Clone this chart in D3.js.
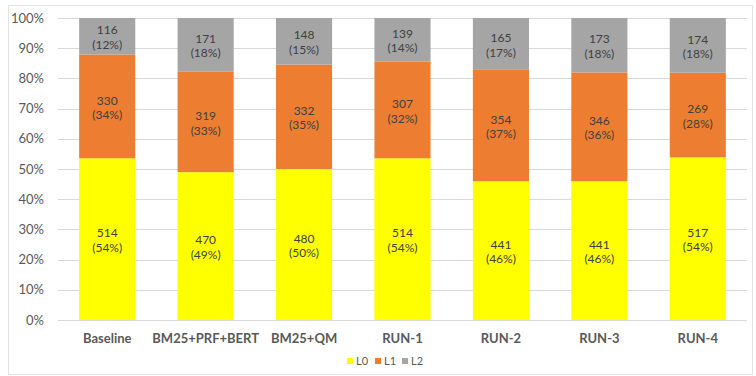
<!DOCTYPE html>
<html>
<head>
<meta charset="utf-8">
<script src="https://cdn.jsdelivr.net/npm/d3@7"></script>
<style>
  html, body { margin: 0; padding: 0; background: #fff; }
  svg { display: block; font-family: Lato, "Open Sans", sans-serif; }
</style>
</head>
<body>
<svg id="chart" width="756" height="376"></svg>
<script>
// Relevance-level counts per run (stacked to 100%)
const categories = ["Baseline", "BM25+PRF+BERT", "BM25+QM", "RUN-1", "RUN-2", "RUN-3", "RUN-4"];
const seriesNames = ["L0", "L1", "L2"];
const L0 = [514, 470, 480, 514, 441, 441, 517];
const L1 = [330, 319, 332, 307, 354, 346, 269];
const L2 = [116, 171, 148, 139, 165, 173, 174];
const yTicks = [0, 0.1, 0.2, 0.3, 0.4, 0.5, 0.6, 0.7, 0.8, 0.9, 1.0];
const colors = { L0: "#FFFF00", L1: "#ED7D31", L2: "#A5A5A5" };

const rows = categories.map((c, i) => {
  const total = L0[i] + L1[i] + L2[i];
  return { category: c, L0: L0[i], L1: L1[i], L2: L2[i], total };
});

const svg = d3.select("#chart");
const margin = { left: 58, right: 9, top: 18, bottom: 56 };
const W = 756, H = 376;

// outer chart frame
svg.append("rect")
  .attr("x", 8.5).attr("y", 5.5)
  .attr("width", 744).attr("height", 369)
  .attr("fill", "none").attr("stroke", "#E3E3E3").attr("stroke-width", 1);

const x = d3.scaleBand()
  .domain(categories)
  .range([margin.left, W - margin.right])
  .paddingInner(0.43).paddingOuter(0.215);

const y = d3.scaleLinear().domain([0, 1]).range([H - margin.bottom, margin.top]);

// gridlines
svg.append("g")
  .selectAll("line")
  .data(yTicks)
  .join("line")
  .attr("x1", margin.left).attr("x2", W - margin.right)
  .attr("y1", d => Math.round(y(d)) + 0.5).attr("y2", d => Math.round(y(d)) + 0.5)
  .attr("stroke", "#D9D9D9").attr("stroke-width", 1);

// y axis labels
const yAxis = d3.axisLeft(y).tickValues(yTicks).tickFormat(d3.format(".0%")).tickSize(0).tickPadding(14);
const gy = svg.append("g").attr("transform", `translate(${margin.left},0)`).call(yAxis);
gy.select(".domain").remove();
gy.selectAll("text").attr("fill", "#595959").style("font-size", "13px").style("font-family", "Lato, sans-serif");

// stacked bars
const stack = d3.stack().keys(seriesNames).offset(d3.stackOffsetExpand);
const stacked = stack(rows);

const layers = svg.append("g").selectAll("g")
  .data(stacked)
  .join("g")
  .attr("fill", d => colors[d.key]);

layers.selectAll("rect")
  .data(d => d.map(s => Object.assign(s, { key: d.key })))
  .join("rect")
  .attr("x", d => x(d.data.category))
  .attr("width", x.bandwidth())
  .attr("y", d => y(d[1]))
  .attr("height", d => y(d[0]) - y(d[1]));

// value labels: count and share
const pct = d3.format(".0%");
const labels = svg.append("g");
stacked.forEach(layer => {
  layer.forEach(s => {
    const cx = x(s.data.category) + x.bandwidth() / 2;
    const cy = (y(s[0]) + y(s[1])) / 2;
    const v = s.data[layer.key];
    const t = labels.append("text")
      .attr("x", cx).attr("y", cy)
      .attr("text-anchor", "middle")
      .attr("fill", "#404040")
      .style("font-size", "12px");
    t.append("tspan").attr("x", cx).attr("dy", "-0.15em").text(v);
    t.append("tspan").attr("x", cx).attr("dy", "1.2em").text(`(${pct(v / s.data.total)})`);
  });
});

// x axis labels
const xAxis = d3.axisBottom(x).tickSize(0).tickPadding(14);
const gx = svg.append("g").attr("transform", `translate(0,${H - margin.bottom})`).call(xAxis);
gx.select(".domain").remove();
gx.selectAll("text").attr("fill", "#595959").style("font-size", "13px").style("font-weight", "bold").style("font-family", "Lato, sans-serif");

// legend
const legendX = [347, 375, 402];
const legend = svg.append("g");
seriesNames.forEach((k, i) => {
  legend.append("rect").attr("x", legendX[i]).attr("y", 358).attr("width", 6).attr("height", 6).attr("fill", colors[k]);
  legend.append("text").attr("x", legendX[i] + 9).attr("y", 365)
    .attr("fill", "#595959").style("font-size", "11px").text(k);
});
</script>
</body>
</html>
